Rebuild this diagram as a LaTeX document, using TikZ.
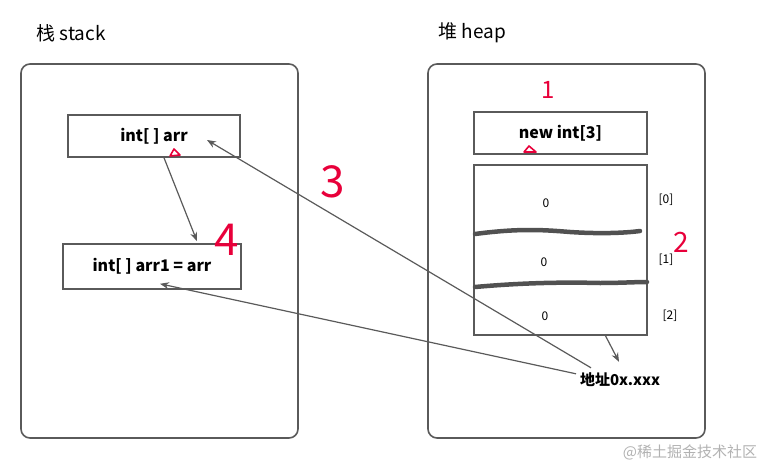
\documentclass[tikz,border=0pt]{standalone}
\usepackage{fontspec}
\setmainfont{Noto Sans CJK SC}
\usetikzlibrary{positioning,arrows.meta}

\definecolor{linegray}{HTML}{5A5A5A}
\definecolor{inkred}{HTML}{E8003A}

\tikzset{
  frame/.style={draw=linegray,line width=1.6pt,rounded corners=9pt},
  cell/.style={draw=linegray,line width=1.6pt,rectangle,inner sep=0pt,font=\bfseries\fontsize{16}{19}\selectfont},
  link/.style={->,>={Stealth[length=9pt,width=7pt]},draw=linegray,line width=1.2pt},
  small/.style={font=\fontsize{12}{14}\selectfont},
  note/.style={text=inkred},
  stroke/.style={draw=linegray!90!black,line width=4.5pt,line cap=round}
}

\begin{document}
\begin{tikzpicture}[x=1pt,y=-1pt,font=\fontsize{15}{18}\selectfont]
\useasboundingbox (0,0) rectangle (781,476);

% titles and frames
\node[anchor=west,font=\fontsize{19}{22}\selectfont] (stacktitle) at (33,33) {栈 stack};
\node[anchor=west,font=\fontsize{19}{22}\selectfont] (heaptitle) at (435,33) {堆 heap};
\draw[frame] (21,64) rectangle (298,438);
\draw[frame] (428,64) rectangle (705,438);

% stack side
\node[cell,minimum width=172pt,minimum height=42pt] (arr) at (154,136) {int[ ] arr};
\node[cell,minimum width=178pt,minimum height=45pt] (arr1) at (152,266.5) {int[ ] arr1 = arr};

% heap side
\node[cell,minimum width=173pt,minimum height=42pt] (newint) at (560.5,133) {new int[3]};
\node[cell,minimum width=173pt,minimum height=170pt] (array) at (560.5,250) {};
\node[small] (val0) at (546,203) {0};
\node[small] (val1) at (544,262) {0};
\node[small] (val2) at (545,316) {0};
\node[small] (idx0) at (666,200) {[0]};
\node[small] (idx1) at (666,260) {[1]};
\node[small] (idx2) at (670,316) {[2]};
\node[font=\bfseries\fontsize{15}{18}\selectfont,inner sep=1pt] (addr) at (620,380) {地址0x.xxx};

% hand strokes between the cells
\draw[stroke] (475,234) .. controls (520,228) and (545,230) .. (570,232) .. controls (600,234) and (625,233) .. (640,231);
\draw[stroke] (475,287) .. controls (520,283) and (560,282) .. (600,283) .. controls (620,283) and (635,282) .. (647,282);

% connectors
\draw[link] ([xshift=10pt]arr.south) -- ([xshift=45pt,yshift=2pt]arr1.north);
\draw[link] ([xshift=45pt]array.south) -- ([xshift=-1pt,yshift=10pt]addr.north);
\draw[link] ([xshift=-29pt,yshift=4pt]addr.north) -- ([xshift=53pt,yshift=-4pt]arr.center);
\draw[link] ([xshift=-44pt,yshift=-2pt]addr.north) -- ([xshift=8pt,yshift=6pt]arr1.south);

% red notes
\node[note,font=\fontsize{24}{24}\selectfont] (one) at (548,90) {1};
\node[note,font=\fontsize{28}{28}\selectfont] (two) at (681,242) {2};
\node[note,font=\fontsize{44}{44}\selectfont] (three) at (333,182) {3};
\node[note,font=\fontsize{44}{44}\selectfont] (four) at (227,240) {4};
\draw[inkred,line width=1.6pt,line join=round] (170,156) -- (174,149) -- (180,155) -- cycle;
\draw[inkred,line width=1.6pt,line join=round] (524,152) -- (529,146) -- (536,152) -- cycle;

% watermark
\node[text=black!30,font=\fontsize{15}{18}\selectfont] (mark) at (690,452) {@稀土掘金技术社区};
\end{tikzpicture}
\end{document}
